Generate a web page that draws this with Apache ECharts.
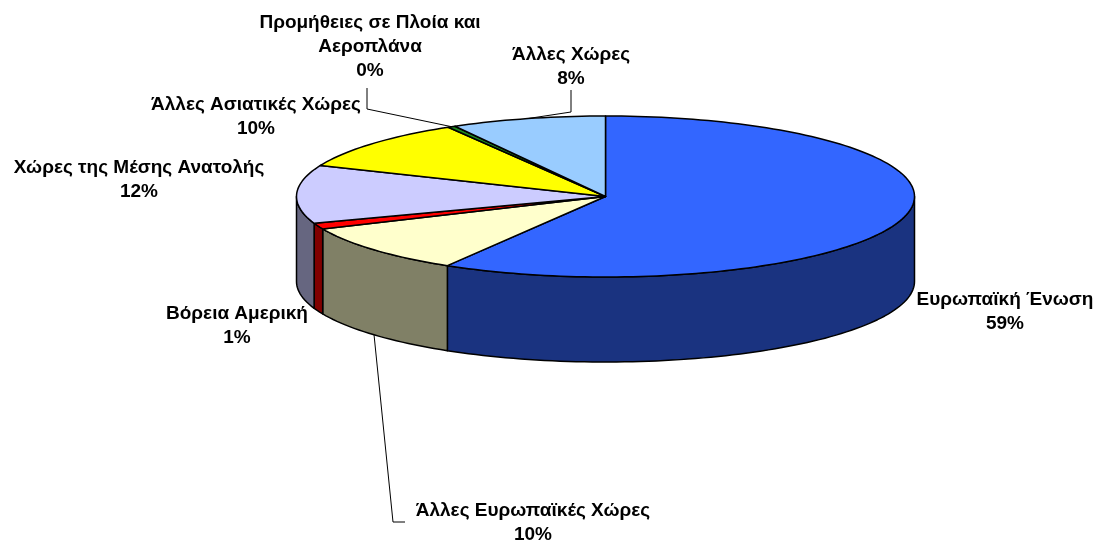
<!DOCTYPE html>
<html>
<head>
<meta charset="utf-8">
<script src="https://cdn.jsdelivr.net/npm/echarts@6/dist/echarts.min.js"></script>
<style>
html,body{margin:0;padding:0;background:#fff}
#main{width:1100px;height:542px}
</style>
</head>
<body>
<div id="main"></div>
<script>
// data
var categories = ['Ευρωπαϊκή Ένωση', 'Άλλες Ευρωπαϊκές Χώρες', 'Βόρεια Αμερική', 'Χώρες της Μέσης Ανατολής',
  'Άλλες Ασιατικές Χώρες', 'Προμήθειες σε Πλοία και Αεροπλάνα', 'Άλλες Χώρες'];
var values = [58.55, 9.85, 1.2, 11.7, 10.2, 0.4, 8.1];

// colours (top face / wall)
var topColors = ['#3366FF', '#FFFFCC', '#FF0000', '#CCCCFF', '#FFFF00', '#1E8A1E', '#99CCFF'];
var sideColors = ['#1A3380', '#808066', '#800000', '#666680', '#808000', '#0F450F', '#4D6680'];

// pie geometry (pixels)
var cx = 605.5, cy = 196.5, rx = 309, ry = 80.5, depth = 85;

// label layout: centre of the text block, line break after n words, leader elbow points
var labelPos = [[1005, 312], [533, 523], [237, 326], [139, 180], [256, 117], [370, 47], [571, 67]];
var labelBreakAfter = [0, 0, 0, 0, 0, 4, 0];
var leaders = {
  1: { pts: [[405, 522], [393, 522]], edge: 'bottom' },
  5: { pts: [[367, 88], [367, 109]], edge: 'top' },
  6: { pts: [[571, 90], [571, 112]], edge: 'top' }
};

var total = values.reduce(function (a, b) { return a + b; }, 0);
var angles = [];   // [start, end] in degrees, clockwise from 12 o'clock
var acc = 90;
values.forEach(function (v) {
  var sweep = v / total * 360;
  angles.push([acc, acc - sweep]);
  acc -= sweep;
});

function pt(deg, dy) {
  var r = deg * Math.PI / 180;
  return [cx + rx * Math.cos(r), cy - ry * Math.sin(r) + (dy || 0)];
}
function arc(a, b, dy) {
  var n = Math.max(2, Math.ceil(Math.abs(a - b) / 1.5));
  var out = [];
  for (var i = 0; i <= n; i++) out.push(pt(a + (b - a) * i / n, dy));
  return out;
}
function labelName(i) {
  var n = labelBreakAfter[i];
  if (!n) return categories[i];
  var w = categories[i].split(' ');
  return w.slice(0, n).join(' ') + '\n' + w.slice(n).join(' ');
}

function renderItem(params, api) {
  var i = params.dataIndex;
  var a = angles[i][0], b = angles[i][1];
  var children = [];

  // front wall, visible between 0 and -180 degrees
  var wa = Math.min(a, 0), wb = Math.max(b, -180);
  if (wa > wb) {
    var top = arc(wa, wb, 0);
    var bot = arc(wb, wa, depth);
    children.push({
      type: 'polygon',
      shape: { points: top.concat(bot) },
      style: { fill: sideColors[i], stroke: '#000', lineWidth: 1.5, lineJoin: 'round' }
    });
  }

  // top face
  children.push({
    type: 'polygon',
    shape: { points: [[cx, cy]].concat(arc(a, b, 0)) },
    style: { fill: topColors[i], stroke: '#000', lineWidth: 1.5, lineJoin: 'round' }
  });

  // label
  var pct = Math.round(api.value(0) / total * 100) + '%';
  children.push({
    type: 'text',
    x: labelPos[i][0],
    y: labelPos[i][1],
    z2: 10,
    style: {
      text: labelName(i) + '\n' + pct,
      fill: '#000',
      font: 'bold 19px "Liberation Sans", Arial, sans-serif',
      align: 'center',
      verticalAlign: 'middle',
      lineHeight: 24
    }
  });

  // leader line
  var ld = leaders[i];
  if (ld) {
    var mid = (a + b) / 2;
    var anchor = ld.edge === 'bottom' ? pt(mid, depth) : pt(mid, 0);
    children.push({
      type: 'polyline',
      shape: { points: ld.pts.concat([anchor]) },
      style: { stroke: '#000', lineWidth: 1, fill: null },
      z2: 10
    });
  }

  return { type: 'group', children: children };
}

var chart = echarts.init(document.getElementById('main'));
chart.setOption({
  backgroundColor: '#fff',
  animation: false,
  series: [{
    type: 'custom',
    coordinateSystem: 'none',
    renderItem: renderItem,
    data: values.map(function (v, i) { return { name: categories[i], value: v }; })
  }]
});
</script>
</body>
</html>
